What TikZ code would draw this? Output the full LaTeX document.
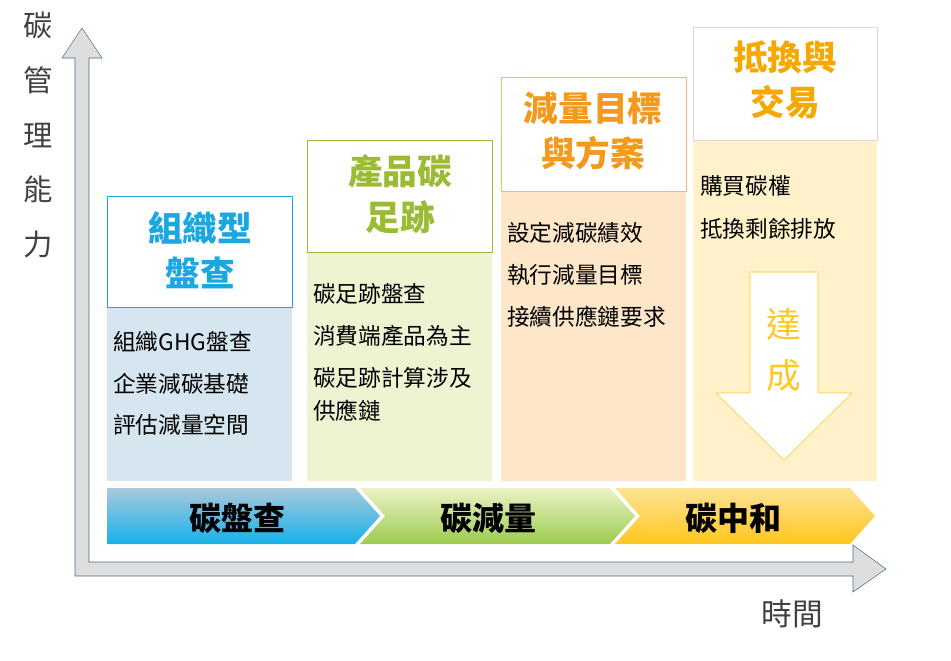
\documentclass[tikz,border=0pt]{standalone}
\usepackage{fontspec}
\setmainfont{Noto Sans CJK TC}
\usetikzlibrary{shadings}
\definecolor{axfill}{HTML}{DEDEDE}
\definecolor{axline}{HTML}{4A6A8A}
\definecolor{cA}{HTML}{1BA8E0}
\definecolor{cB}{HTML}{9BBB34}
\definecolor{cC}{HTML}{F39A1E}
\definecolor{cD}{HTML}{F5A800}
\definecolor{fA}{HTML}{D6E6F0}
\definecolor{fB}{HTML}{EEF3D2}
\definecolor{fC}{HTML}{FDE7C8}
\definecolor{fD}{HTML}{FFF1C9}
\definecolor{bD}{HTML}{D8D8D8}
\definecolor{arr}{HTML}{FFC820}
\definecolor{s1t}{HTML}{A9C9DD}\definecolor{s1b}{HTML}{16B1EA}
\definecolor{s2t}{HTML}{EBF3C6}\definecolor{s2b}{HTML}{9CCB4E}
\definecolor{s3t}{HTML}{FDE394}\definecolor{s3b}{HTML}{FFC61E}
\tikzset{
  ttl/.style={font=\fontsize{26}{34}\selectfont\bfseries, align=center},
  bod/.style={font=\fontsize{17}{20}\selectfont, anchor=west, inner sep=0pt},
  seglab/.style={font=\fontsize{24}{28}\selectfont\bfseries},
}
\begin{document}
\begin{tikzpicture}[x=0.75pt,y=-0.75pt]
\useasboundingbox (0,0) rectangle (951,661);
% axes
\draw[axline, fill=axfill] (75,576) -- (75,58) -- (62,58) -- (82,28) -- (102,58) -- (89,58) -- (89,562) -- (853,562) -- (853,545) -- (886,569) -- (853,592) -- (853,576) -- cycle;
\node[font=\fontsize{22}{41}\selectfont, align=center, text=black!75] (ylab) at (38,135) {碳\\管\\理\\能\\力};
\node[font=\fontsize{23}{28}\selectfont, text=black!75] (xlab) at (792,614) {時間};
% bodies
\fill[fA] (107,307) rectangle (292,481);
\fill[fB] (307,252) rectangle (492,481);
\fill[fC] (501,191) rectangle (686,481);
\fill[fD] (693,140) rectangle (877,481);
% title boxes
\draw[cA, fill=white] (107,196) rectangle (292,307);
\node[ttl, text=cA] (t1) at (200,250) {組織型\\盤查};
\draw[cB, fill=white] (307,140) rectangle (492,252);
\node[ttl, text=cB] (t2) at (400,194) {產品碳\\足跡};
\draw[cC!70, fill=white] (501,77) rectangle (686,191);
\node[ttl, text=cC] (t3) at (593,131) {減量目標\\與方案};
\draw[bD, fill=white] (693,27) rectangle (877,140);
\node[ttl, text=cD] (t4) at (785,80) {抵換與\\交易};
% body texts
\node[bod] (a1) at (113,342) {組織GHG盤查};
\node[bod] (a2) at (113,384) {企業減碳基礎};
\node[bod] (a3) at (113,425) {評估減量空間};
\node[bod] (b1) at (313,294) {碳足跡盤查};
\node[bod] (b2) at (313,336) {消費端產品為主};
\node[bod] (b3) at (313,378) {碳足跡計算涉及};
\node[bod] (b4) at (313,411) {供應鏈};
\node[bod] (c1) at (507,233) {設定減碳績效};
\node[bod] (c2) at (507,275) {執行減量目標};
\node[bod] (c3) at (507,317) {接續供應鏈要求};
\node[bod] (d1) at (700,186) {購買碳權};
\node[bod] (d2) at (700,229) {抵換剩餘排放};
% down arrow
\draw[arr, fill=white] (750,272) -- (818,272) -- (818,393) -- (852,393) -- (784,460) -- (716,393) -- (750,393) -- cycle;
\node[font=\fontsize{26}{38}\selectfont, align=center, text=arr] (reach) at (784,350) {達\\成};
% bar
\shade[top color=s1t, bottom color=s1b] (107,488) -- (355,488) -- (380,516) -- (355,544) -- (107,544) -- cycle;
\shade[top color=s2t, bottom color=s2b] (360,488) -- (610,488) -- (635,516) -- (610,544) -- (360,544) -- (385,516) -- cycle;
\shade[top color=s3t, bottom color=s3b] (615,488) -- (850,488) -- (875,516) -- (850,544) -- (615,544) -- (640,516) -- cycle;
\node[seglab] (p1) at (237,518) {碳盤查};
\node[seglab] (p2) at (488,518) {碳減量};
\node[seglab] (p3) at (733,518) {碳中和};
\end{tikzpicture}
\end{document}
